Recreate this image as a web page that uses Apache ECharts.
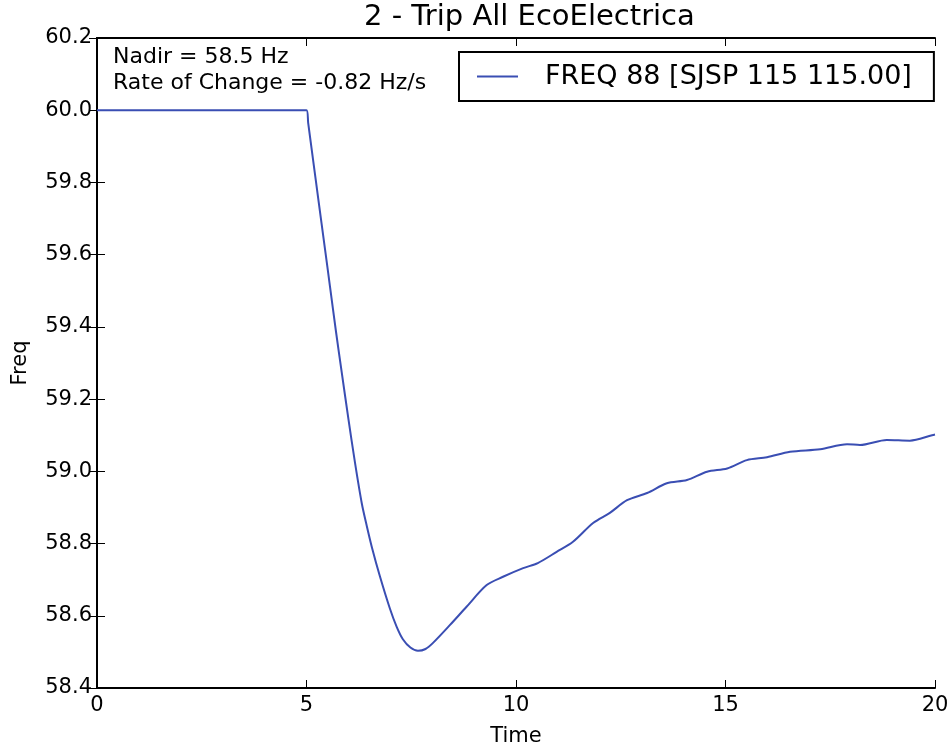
<!DOCTYPE html>
<html>
<head>
<meta charset="utf-8">
<script src="https://cdn.jsdelivr.net/npm/echarts@6/dist/echarts.min.js"></script>
<style>
  html, body { margin: 0; padding: 0; background: #fff; }
  #chart { width: 952px; height: 747px; }
</style>
</head>
<body>
<div id="chart"></div>
<script>
// values
const time = [0, 5.0, 5.04, 5.16, 5.28, 5.44, 5.56, 5.70, 5.84, 6.0, 6.16, 6.32, 6.44, 6.56, 6.75,
  6.99, 7.15, 7.30, 7.48, 7.66, 7.84, 8.02, 8.42, 8.82, 9.30, 9.69, 10.17, 10.52, 10.97, 11.36,
  11.84, 12.24, 12.65, 13.13, 13.60, 14.08, 14.56, 15.04, 15.51, 15.99, 16.54, 17.26, 17.90,
  18.21, 18.85, 19.40, 19.93, 20.0];
const freq = [60.0, 60.0, 59.965, 59.86, 59.755, 59.617, 59.512, 59.39, 59.275, 59.145, 59.022,
  58.911, 58.848, 58.79, 58.71, 58.62, 58.57, 58.535, 58.512, 58.503, 58.508, 58.525, 58.574,
  58.625, 58.685, 58.708, 58.732, 58.746, 58.777, 58.805, 58.857, 58.885, 58.92, 58.94, 58.967,
  58.976, 58.999, 59.008, 59.031, 59.039, 59.054, 59.061, 59.075, 59.073, 59.087, 59.085, 59.10,
  59.102];
const seriesName = 'FREQ 88 [SJSP 115 115.00]';
const titleText = '2 - Trip All EcoElectrica';
const notes = ['Nadir = 58.5 Hz', 'Rate of Change = -0.82 Hz/s'];

const font = 'DejaVu Sans';
const lineColor = '#3a4eb3';
const chart = echarts.init(document.getElementById('chart'));

const tickStyle = {show: true, inside: true, length: 8, lineStyle: {color: '#000', width: 1}};
const lineStyle = {show: true, lineStyle: {color: '#000', width: 2}};

chart.setOption({
  animation: false,
  backgroundColor: '#fff',
  title: {
    text: titleText,
    left: 364,
    top: 3,
    padding: 0,
    textStyle: {fontFamily: font, fontSize: 29, fontWeight: 'normal', color: '#000'}
  },
  grid: {left: 97, right: 17, top: 38, bottom: 59, outerBoundsMode: 'none'},
  legend: {
    data: [seriesName],
    left: 459,
    top: 52,
    icon: 'rect',
    borderColor: '#000',
    borderWidth: 2,
    padding: [11, 22, 11, 18],
    itemWidth: 41,
    itemHeight: 2,
    itemStyle: {color: lineColor},
    textStyle: {fontFamily: font, fontSize: 27, color: '#000', padding: [0, 0, 0, 22]}
  },
  xAxis: [{
    type: 'value', min: 0, max: 20, interval: 5,
    name: 'Time', nameLocation: 'middle', nameGap: 38,
    nameTextStyle: {fontFamily: font, fontSize: 21, color: '#000'},
    axisLine: lineStyle, axisTick: tickStyle, splitLine: {show: false},
    axisLabel: {fontFamily: font, fontSize: 21, color: '#000', margin: 7}
  }, {
    type: 'value', min: 0, max: 20, interval: 5, position: 'top',
    axisLine: lineStyle, axisTick: tickStyle, splitLine: {show: false},
    axisLabel: {show: false}
  }],
  yAxis: [{
    type: 'value', min: 58.4, max: 60.2, interval: 0.2,
    name: 'Freq', nameLocation: 'middle', nameGap: 66,
    nameTextStyle: {fontFamily: font, fontSize: 21, color: '#000'},
    axisLine: lineStyle, axisTick: tickStyle, splitLine: {show: false},
    axisLabel: {fontFamily: font, fontSize: 21, color: '#000', margin: 5,
      formatter: v => v.toFixed(1)}
  }, {
    type: 'value', min: 58.4, max: 60.2, interval: 0.2, position: 'right',
    axisLine: lineStyle, axisTick: tickStyle, splitLine: {show: false},
    axisLabel: {show: false}
  }],
  graphic: notes.map((t, i) => ({
    type: 'text',
    left: 113,
    top: 46 + i * 26,
    style: {text: t, font: '22px "' + font + '"', fill: '#000'}
  })),
  series: [{
    name: seriesName,
    type: 'line',
    symbol: 'none',
    smooth: 0.3,
    lineStyle: {color: lineColor, width: 2},
    itemStyle: {color: lineColor},
    data: time.map((t, i) => [t, freq[i]])
  }]
});
</script>
</body>
</html>
